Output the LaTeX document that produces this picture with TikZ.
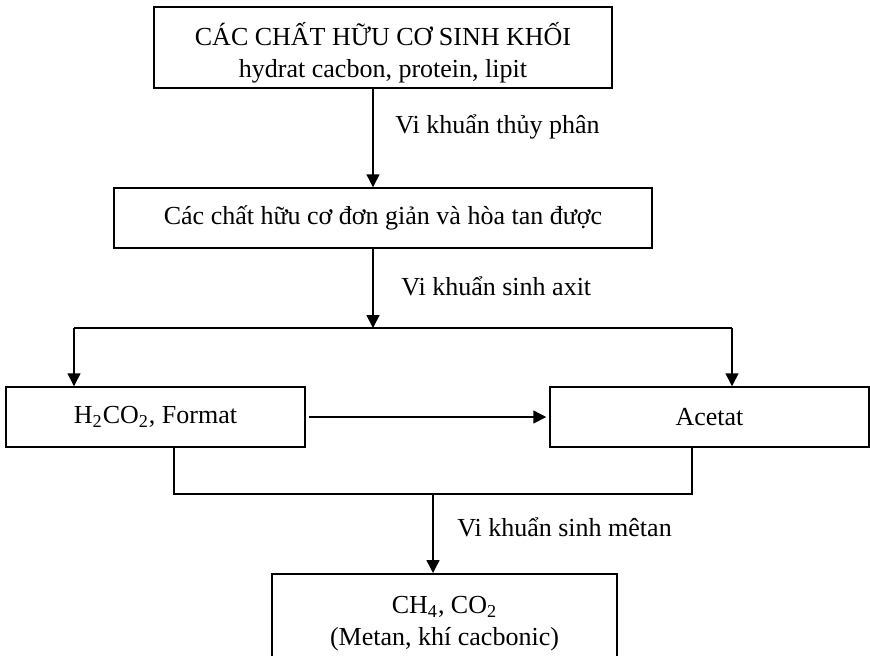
\documentclass[tikz,border=0pt]{standalone}
\usepackage{fontspec}
\setmainfont{Liberation Serif}
\usetikzlibrary{arrows.meta,calc}
\begin{document}
\begin{tikzpicture}[x=0.5pt,y=-0.5pt,
  font=\fontsize{13}{16}\selectfont,
  box/.style={draw,line width=0.75pt,inner sep=0pt,align=center},
  flow/.style={line width=0.75pt,-{Triangle[length=6.5pt,width=6.5pt]}},
  wire/.style={line width=0.75pt},
  lbl/.style={anchor=base west,inner sep=0pt}]
\useasboundingbox (0,0) rectangle (870,655);
\clip (0,0) rectangle (870,655);
\fill[white] (0,0) rectangle (870,655);

% stages of the digestion
\node[box,minimum width=229pt,minimum height=40.5pt] (bio) at (383,47.5)
  {\rule{0pt}{17pt}CÁC CHẤT HỮU CƠ SINH KHỐI\\hydrat cacbon, protein, lipit};
\node[box,minimum width=269pt,minimum height=30pt] (simple) at (383,218)
  {Các chất hữu cơ đơn giản và hòa tan được};
\node[box,minimum width=149.5pt,minimum height=30pt] (formate) at (155.5,417)
  {H\textsubscript{2}CO\textsubscript{2}, Format};
\node[box,minimum width=159.5pt,minimum height=30pt] (acetate) at (709.5,417)
  {Acetat};
\node[box,anchor=north,minimum width=172.5pt,minimum height=50pt] (gas) at (444.5,573)
  {CH\textsubscript{4}, CO\textsubscript{2}\\(Metan, khí cacbonic)};

% hydrolysis
\coordinate (trunk) at (373,0);
\draw[flow] (bio.south -| trunk) -- (simple.north -| trunk);
\node[lbl] (l1) at (395,133) {Vi khuẩn thủy phân};

% acidogenesis and split
\coordinate (split) at (373,328);
\coordinate (splitL) at (74,328);
\coordinate (splitR) at (732,328);
\draw[flow] (simple.south -| split) -- (split);
\draw[wire] (splitL) -- (splitR);
\draw[flow] (splitL) -- (formate.north -| splitL);
\draw[flow] (splitR) -- (acetate.north -| splitR);
\node[lbl] (l2) at (401,295) {Vi khuẩn sinh axit};

% formate to acetate
\draw[flow,shorten <=1.5pt,shorten >=1.5pt] (formate.east) -- (acetate.west);

% methanogenesis
\coordinate (mergeL) at (174,494);
\coordinate (mergeR) at (692,494);
\coordinate (merge) at (433,494);
\draw[wire] (formate.south -| mergeL) -- (mergeL) -- (mergeR) -- (acetate.south -| mergeR);
\draw[flow] (merge) -- (gas.north -| merge);
\node[lbl] (l3) at (457,536) {Vi khuẩn sinh mêtan};
\end{tikzpicture}
\end{document}
